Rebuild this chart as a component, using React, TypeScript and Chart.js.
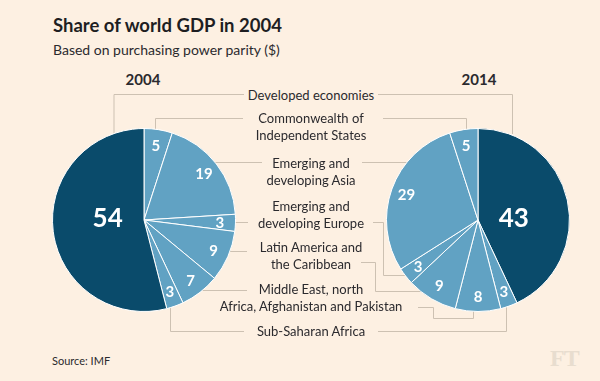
import React, { useEffect, useRef } from 'react';
import { Chart, registerables } from 'chart.js';
Chart.register(...registerables);

// ---- data ----
const categories = [
  'Developed economies',
  'Commonwealth of Independent States',
  'Emerging and developing Asia',
  'Emerging and developing Europe',
  'Latin America and the Caribbean',
  'Middle East, north Africa, Afghanistan and Pakistan',
  'Sub-Saharan Africa',
];
const labelLines = [
  ['Developed economies'],
  ['Commonwealth of', 'Independent States'],
  ['Emerging and', 'developing Asia'],
  ['Emerging and', 'developing Europe'],
  ['Latin America and', 'the Caribbean'],
  ['Middle East, north', 'Africa, Afghanistan and Pakistan'],
  ['Sub-Saharan Africa'],
];
const values2004 = [54, 5, 19, 3, 9, 7, 3];
const values2014 = [43, 5, 29, 3, 9, 8, 3];
const years = ['2004', '2014'];

const BG = '#fdf0e2';
const DARK = '#0a4b6b';
const LIGHT = '#61a2c3';
const LINE = '#cdc1b2';
const TEXT = '#2b2a2e';
const FONT = 'Lato, "Open Sans", sans-serif';

// slice order (clockwise from 12 o'clock)
const leftOrder = [1, 2, 3, 4, 5, 6, 0];
const rightOrder = [0, 6, 5, 4, 3, 2, 1];

const labelPlugin = {
  id: 'sliceLabels',
  afterDatasetsDraw(chart: any) {
    const ctx = chart.ctx;
    const meta = chart.getDatasetMeta(0);
    const data = chart.data.datasets[0].data as number[];
    ctx.save();
    ctx.fillStyle = '#ffffff';
    ctx.textAlign = 'center';
    ctx.textBaseline = 'middle';
    meta.data.forEach((arc: any, i: number) => {
      const p = arc.getProps(['x', 'y', 'startAngle', 'endAngle', 'outerRadius'], true);
      const mid = (p.startAngle + p.endAngle) / 2;
      const big = data[i] > 40;
      if (big) {
        ctx.font = `700 26px ${FONT}`;
        ctx.fillText(String(data[i]), p.x + Math.cos(mid) * p.outerRadius * 0.4, p.y - 1);
      } else {
        const r = p.outerRadius * 0.83;
        ctx.font = `700 15px ${FONT}`;
        ctx.fillText(String(data[i]), p.x + Math.cos(mid) * r, p.y + Math.sin(mid) * r + 1);
      }
    });
    ctx.restore();
  },
};

function Pie({ values, order, left }: { values: number[]; order: number[]; left: number }) {
  const ref = useRef<HTMLCanvasElement>(null);
  useEffect(() => {
    const data = order.map((i) => values[i]);
    const colors = order.map((i) => (i === 0 ? DARK : LIGHT));
    const chart = new Chart(ref.current!, {
      type: 'pie',
      data: {
        labels: order.map((i) => categories[i]),
        datasets: [
          {
            data,
            backgroundColor: colors,
            borderColor: '#ffffff',
            borderWidth: 1,
          },
        ],
      },
      options: {
        responsive: false,
        animation: false,
        layout: { padding: 0 },
        plugins: { legend: { display: false }, tooltip: { enabled: false } },
      },
      plugins: [labelPlugin],
    });
    return () => chart.destroy();
  }, []);
  return (
    <canvas
      ref={ref}
      width={184}
      height={184}
      style={{ position: 'absolute', left, top: 128, width: 184, height: 184 }}
    />
  );
}

const lineY = [95, 118, 163, 206, 247, 289, 331];

const connectors = [
  // left side
  '114,133 114,94.5 244,94.5',
  '155.5,130 155.5,118.5 243,118.5',
  '210,162.5 262,162.5',
  '230,222.5 248,222.5',
  '228,251.5 247,251.5',
  '198,290.5 247,290.5',
  '170.5,306 170.5,331.5 244,331.5',
  // right side
  '378,94.5 512.5,94.5 512.5,134',
  '383,118.5 466.5,118.5 466.5,131',
  '362,162.5 412,162.5',
  '373,222.5 383.5,222.5 383.5,275.5 408,275.5',
  '361,262.5 375.5,262.5 375.5,291.5 425,291.5',
  '418,307.5 433.5,307.5 433.5,318.5 473.5,318.5 473.5,308',
  '378,331.5 506.5,331.5 506.5,304',
];

export default function App() {
  return (
    <div
      style={{
        position: 'absolute',
        left: 0,
        top: 0,
        width: 600,
        height: 381,
        background: BG,
        overflow: 'hidden',
        fontFamily: FONT,
        color: TEXT,
      }}
    >
      <div style={{ position: 'absolute', left: 53, top: 14, fontSize: 18.5, fontWeight: 700, whiteSpace: 'nowrap', color: '#1e1e22' }}>
        Share of world GDP in 2004
      </div>
      <div style={{ position: 'absolute', left: 53, top: 41, fontSize: 14, whiteSpace: 'nowrap' }}>
        Based on purchasing power parity ($)
      </div>
      <div style={{ position: 'absolute', left: 103, width: 80, textAlign: 'center', top: 70, fontSize: 15, fontWeight: 700 }}>
        {years[0]}
      </div>
      <div style={{ position: 'absolute', left: 439, width: 80, textAlign: 'center', top: 70, fontSize: 15, fontWeight: 700 }}>
        {years[1]}
      </div>
      <svg width={600} height={381} style={{ position: 'absolute', left: 0, top: 0 }}>
        {connectors.map((pts, i) => (
          <polyline key={i} points={pts} fill="none" stroke={LINE} strokeWidth={1} />
        ))}
      </svg>
      <Pie values={values2004} order={leftOrder} left={52} />
      <Pie values={values2014} order={rightOrder} left={386} />
      {labelLines.map((lines, i) => (
        <div
          key={i}
          style={{
            position: 'absolute',
            left: 211,
            width: 200,
            top: lineY[i] - 8,
            textAlign: 'center',
            fontSize: 13,
            lineHeight: '16.5px',
            whiteSpace: 'nowrap',
          }}
        >
          {lines.map((l, j) => (
            <div key={j}>{l}</div>
          ))}
        </div>
      ))}
      <div style={{ position: 'absolute', left: 52, top: 354, fontSize: 11 }}>Source: IMF</div>
      <div
        style={{
          position: 'absolute',
          left: 550,
          top: 345,
          fontSize: 24,
          fontFamily: '"Liberation Serif", "DejaVu Serif", serif',
          fontWeight: 700,
          color: '#e8ddcf',
          letterSpacing: -1,
        }}
      >
        FT
      </div>
    </div>
  );
}
